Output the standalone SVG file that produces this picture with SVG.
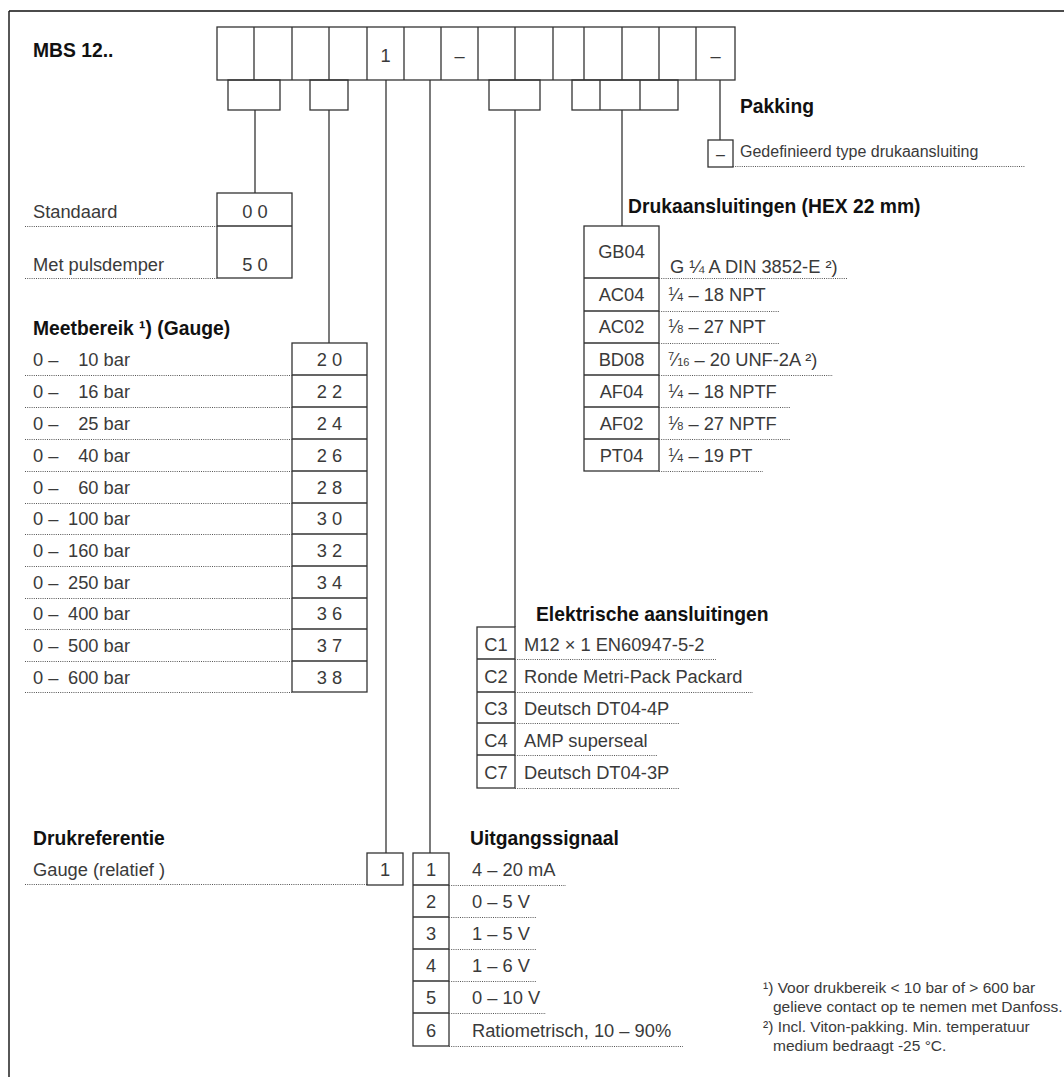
<svg xmlns="http://www.w3.org/2000/svg" width="1064" height="1077" viewBox="0 0 1064 1077">
<style>
.bx{fill:none;stroke:#333;stroke-width:1.3}
.ln{fill:none;stroke:#333;stroke-width:1.3}
.dot{fill:none;stroke:#555;stroke-width:1;stroke-dasharray:1 1.2}
.t{font-family:"Liberation Sans",Arial,sans-serif;font-size:18.3px;fill:#3a3a3a}
.c{font-family:"Liberation Sans",Arial,sans-serif;font-size:18.3px;fill:#3a3a3a;text-anchor:middle}
.h{font-family:"Liberation Sans",Arial,sans-serif;font-size:19.3px;font-weight:bold;fill:#111}
.s{font-family:"Liberation Sans",Arial,sans-serif;font-size:16px;fill:#3a3a3a}
.f{font-family:"Liberation Sans",Arial,sans-serif;font-size:15.5px;fill:#3a3a3a}
.sm{font-size:11px}
</style>
<rect width="1064" height="1077" fill="#fff"/>
<path d="M9 11H1064M9 11V1077" fill="none" stroke="#111" stroke-width="1.4"/>

<g id="header">
<text class="h" x="33" y="57">MBS 12..</text>
<rect class="bx" x="217" y="27" width="518" height="53"/>
<path class="ln" d="M254 27V80M292 27V80M329 27V80M367 27V80M404 27V80M441 27V80M478 27V80M515 27V80M553 27V80M584 27V80M622 27V80M659 27V80M696 27V80"/>
<text class="c" x="385.5" y="62">1</text>
<text class="c" x="459.5" y="62">–</text>
<text class="c" x="715.5" y="62">–</text>
</g>

<g id="brackets">
<rect class="bx" x="228" y="80" width="52" height="30"/>
<rect class="bx" x="310" y="80" width="38" height="30"/>
<rect class="bx" x="489" y="80" width="51" height="30"/>
<rect class="bx" x="572" y="80" width="106" height="30"/>
<path class="ln" d="M600 80V110M640 80V110"/>
</g>

<g id="connectors">
<path class="ln" d="M255 110V193"/>
<path class="ln" d="M329 110V343"/>
<path class="ln" d="M386 80V853"/>
<path class="ln" d="M430 80V853"/>
<path class="ln" d="M515 110V627"/>
<path class="ln" d="M622 110V226"/>
<path class="ln" d="M720 80V140"/>
</g>

<g id="pakking">
<text class="h" x="740" y="113">Pakking</text>
<rect class="bx" x="708" y="140" width="25" height="27"/>
<text class="c" x="720.5" y="160" style="font-size:16px">–</text>
<text class="s" x="740" y="157">Gedefinieerd type drukaansluiting</text>
<path class="dot" d="M733 166.5H1025"/>
</g>

<g id="standaard">
<rect class="bx" x="217" y="193" width="75" height="85"/>
<path class="ln" d="M217 226H292"/>
<text class="t" x="33" y="218">Standaard</text>
<text class="c" x="255" y="218">0 0</text>
<text class="t" x="33" y="271">Met pulsdemper</text>
<text class="c" x="255" y="271">5 0</text>
<path class="dot" d="M25 226.5H217M25 278.5H217"/>
</g>

<g id="meetbereik">
<text class="h" x="33" y="335">Meetbereik ¹) (Gauge)</text>
<rect class="bx" x="292" y="343" width="75" height="349"/>
<path class="ln" d="M292 375H367M292 407H367M292 439H367M292 471H367M292 503H367M292 534H367M292 566H367M292 598H367M292 629H367M292 661H367"/>
<path class="dot" d="M25 375.5H292M25 407.5H292M25 439.5H292M25 471.5H292M25 503.5H292M25 534.5H292M25 566.5H292M25 598.5H292M25 629.5H292M25 661.5H292M25 692.5H292"/>
<g class="t">
<text x="33" y="366">0 –</text><text x="130" y="366" text-anchor="end">10 bar</text>
<text x="33" y="398">0 –</text><text x="130" y="398" text-anchor="end">16 bar</text>
<text x="33" y="430">0 –</text><text x="130" y="430" text-anchor="end">25 bar</text>
<text x="33" y="462">0 –</text><text x="130" y="462" text-anchor="end">40 bar</text>
<text x="33" y="494">0 –</text><text x="130" y="494" text-anchor="end">60 bar</text>
<text x="33" y="525">0 –</text><text x="130" y="525" text-anchor="end">100 bar</text>
<text x="33" y="557">0 –</text><text x="130" y="557" text-anchor="end">160 bar</text>
<text x="33" y="589">0 –</text><text x="130" y="589" text-anchor="end">250 bar</text>
<text x="33" y="620">0 –</text><text x="130" y="620" text-anchor="end">400 bar</text>
<text x="33" y="652">0 –</text><text x="130" y="652" text-anchor="end">500 bar</text>
<text x="33" y="684">0 –</text><text x="130" y="684" text-anchor="end">600 bar</text>
</g>
<g class="c">
<text x="329.5" y="366">2 0</text>
<text x="329.5" y="398">2 2</text>
<text x="329.5" y="430">2 4</text>
<text x="329.5" y="462">2 6</text>
<text x="329.5" y="494">2 8</text>
<text x="329.5" y="525">3 0</text>
<text x="329.5" y="557">3 2</text>
<text x="329.5" y="589">3 4</text>
<text x="329.5" y="620">3 6</text>
<text x="329.5" y="652">3 7</text>
<text x="329.5" y="684">3 8</text>
</g>
</g>

<g id="drukaansluitingen">
<text class="h" x="628" y="213">Drukaansluitingen (HEX 22 mm)</text>
<rect class="bx" x="584" y="226" width="75" height="245"/>
<path class="ln" d="M584 278H659M584 311H659M584 343H659M584 375H659M584 407H659M584 439H659"/>
<path class="dot" d="M659 278.5H847M659 311.5H780M659 343.5H780M659 375.5H833M659 407.5H790M659 439.5H790M659 471.5H763"/>
<g class="c">
<text x="621.5" y="258">GB04</text>
<text x="621.5" y="301">AC04</text>
<text x="621.5" y="333">AC02</text>
<text x="621.5" y="366">BD08</text>
<text x="621.5" y="398">AF04</text>
<text x="621.5" y="430">AF02</text>
<text x="621.5" y="462">PT04</text>
</g>
<g class="t">
<text x="670" y="273">G ¼ A DIN 3852-E ²)</text>
<text x="668" y="301"><tspan class="sm" dy="-6">1</tspan><tspan dy="6">⁄</tspan><tspan class="sm">4</tspan> – 18 NPT</text>
<text x="668" y="333"><tspan class="sm" dy="-6">1</tspan><tspan dy="6">⁄</tspan><tspan class="sm">8</tspan> – 27 NPT</text>
<text x="668" y="366"><tspan class="sm" dy="-6">7</tspan><tspan dy="6">⁄</tspan><tspan class="sm">16</tspan> – 20 UNF-2A ²)</text>
<text x="668" y="398"><tspan class="sm" dy="-6">1</tspan><tspan dy="6">⁄</tspan><tspan class="sm">4</tspan> – 18 NPTF</text>
<text x="668" y="430"><tspan class="sm" dy="-6">1</tspan><tspan dy="6">⁄</tspan><tspan class="sm">8</tspan> – 27 NPTF</text>
<text x="668" y="462"><tspan class="sm" dy="-6">1</tspan><tspan dy="6">⁄</tspan><tspan class="sm">4</tspan> – 19 PT</text>
</g>
</g>

<g id="elektrisch">
<text class="h" x="536" y="621">Elektrische aansluitingen</text>
<rect class="bx" x="477" y="627" width="38" height="161"/>
<path class="ln" d="M477 659H515M477 692H515M477 723H515M477 755H515"/>
<path class="dot" d="M515 659.5H716M515 692.5H753M515 723.5H679M515 755.5H657M515 788.5H679"/>
<g class="c">
<text x="496" y="651">C1</text>
<text x="496" y="683">C2</text>
<text x="496" y="715">C3</text>
<text x="496" y="747">C4</text>
<text x="496" y="779">C7</text>
</g>
<g class="t">
<text x="524" y="651">M12 × 1 EN60947-5-2</text>
<text x="524" y="683">Ronde Metri-Pack Packard</text>
<text x="524" y="715">Deutsch DT04-4P</text>
<text x="524" y="747">AMP superseal</text>
<text x="524" y="779">Deutsch DT04-3P</text>
</g>
</g>

<g id="drukreferentie">
<text class="h" x="33" y="845">Drukreferentie</text>
<text class="t" x="33" y="876">Gauge (relatief )</text>
<path class="dot" d="M25 884.5H367"/>
<rect class="bx" x="367" y="853" width="36" height="32"/>
<text class="c" x="385" y="876">1</text>
</g>

<g id="uitgangssignaal">
<text class="h" x="470" y="845">Uitgangssignaal</text>
<rect class="bx" x="413" y="853" width="36" height="193"/>
<path class="ln" d="M413 885H449M413 917H449M413 949H449M413 981H449M413 1013H449"/>
<path class="dot" d="M449 885.5H566M449 917.5H536M449 949.5H536M449 981.5H536M449 1013.5H546M449 1046.5H683"/>
<g class="c">
<text x="431" y="876">1</text>
<text x="431" y="908">2</text>
<text x="431" y="940">3</text>
<text x="431" y="972">4</text>
<text x="431" y="1004">5</text>
<text x="431" y="1037">6</text>
</g>
<g class="t">
<text x="472" y="876">4 – 20 mA</text>
<text x="472" y="908">0 – 5 V</text>
<text x="472" y="940">1 – 5 V</text>
<text x="472" y="972">1 – 6 V</text>
<text x="472" y="1004">0 – 10 V</text>
<text x="472" y="1037">Ratiometrisch, 10 – 90%</text>
</g>
</g>

<g id="footnotes" class="f">
<text x="763" y="993">¹) Voor drukbereik &lt; 10 bar of &gt; 600 bar</text>
<text x="773" y="1012">gelieve contact op te nemen met Danfoss.</text>
<text x="763" y="1032">²) Incl. Viton-pakking. Min. temperatuur</text>
<text x="773" y="1051">medium bedraagt -25 °C.</text>
</g>
</svg>
